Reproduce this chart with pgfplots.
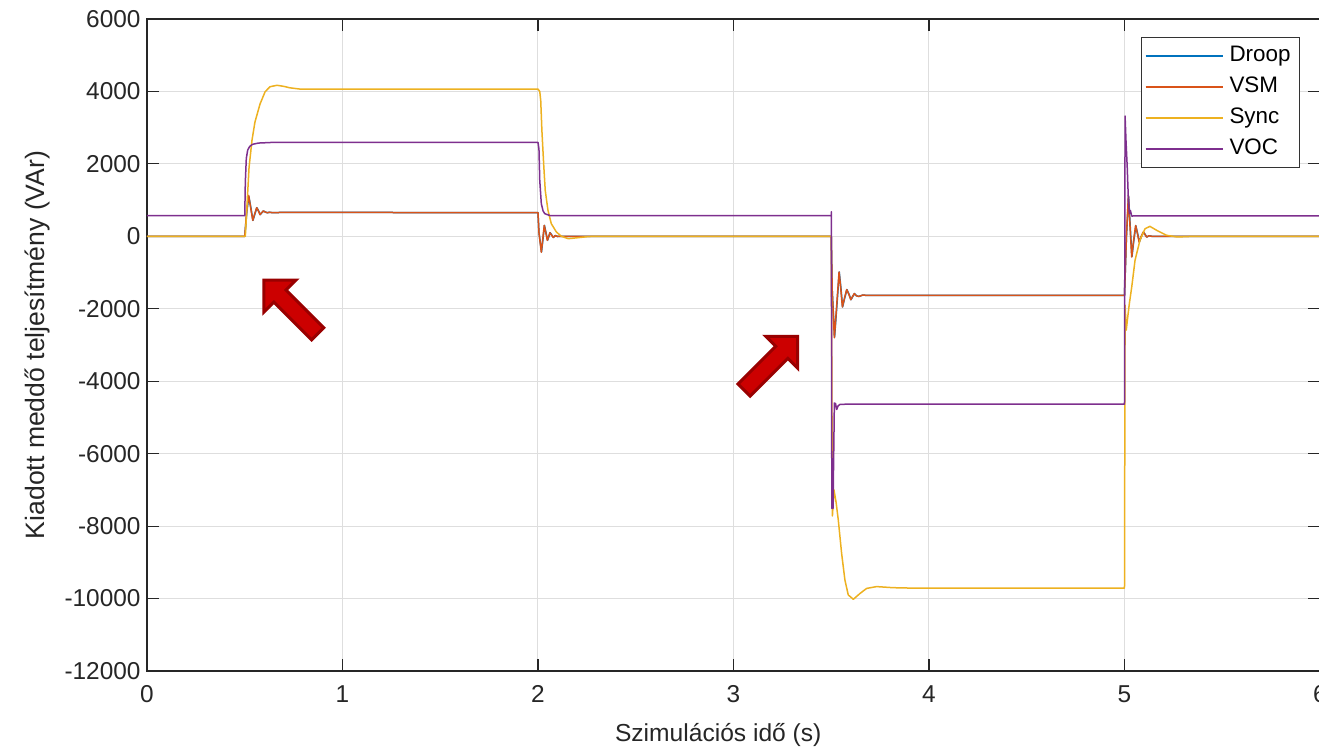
\documentclass[border=0pt]{standalone}
\usepackage{pgfplots}
\pgfplotsset{compat=1.18}
\usepackage{fontspec}
\setmainfont{Liberation Sans}
\definecolor{cDroop}{rgb}{0,0.447,0.741}
\definecolor{cVSM}{rgb}{0.85,0.325,0.098}
\definecolor{cSync}{rgb}{0.929,0.694,0.125}
\definecolor{cVOC}{rgb}{0.494,0.184,0.556}
\definecolor{arrowfill}{HTML}{CC0000}
\definecolor{arrowedge}{HTML}{990000}
\begin{document}
\begin{tikzpicture}
\begin{axis}[
  scale only axis, width=586.5pt, height=326pt,
  xmin=0, xmax=6, ymin=-12000, ymax=6000,
  scaled y ticks=false, scaled x ticks=false,
  xtick={0,1,2,3,4,5,6}, ytick={-12000,-10000,-8000,-6000,-4000,-2000,0,2000,4000,6000},
  grid=major, major grid style={color=black!13, line width=0.5pt},
  tick align=inside, tick pos=both, major tick length=6pt,
  axis line style={black!85, line width=0.6pt},
  every tick/.style={black!85, line width=0.6pt},
  tick label style={font=\fontsize{12.2}{14}\selectfont, text=black!85},
  xticklabel style={yshift=-3.6pt},
  yticklabel style={xshift=0.3pt},
  /pgf/number format/assume math mode=true,
  /pgf/number format/1000 sep={},
  xlabel={Szimulációs idő (s)},
  ylabel={Kiadott meddő teljesítmény (VAr)},
  xlabel style={font=\fontsize{12.3}{14}\selectfont, text=black!85, at={(axis description cs:0.487,-0.098)}, anchor=center},
  ylabel style={font=\fontsize{13.3}{15}\selectfont, text=black!85, at={(axis description cs:-0.0938,0.5)}, anchor=center},
  legend style={at={(0.983,0.972)}, anchor=north east, draw=black!80, fill=white,
    line width=0.5pt, font=\fontsize{11.2}{13}\selectfont, inner sep=1.5pt, row sep=0pt,
    nodes={inner xsep=3pt, inner ysep=2.5pt, text height=8pt, text depth=2.5pt}},
  legend cell align=left,
  legend image code/.code={\draw[#1, line width=0.9pt] (0pt,0pt) -- (38.5pt,0pt);},
  every axis plot/.append style={line width=0.75pt, line join=round},
]
\addplot[cDroop] coordinates {
(0,0) (0.5,0) (0.511,700) (0.521,1100) (0.531,800) (0.542,440) (0.552,620) (0.562,790)
(0.571,700) (0.579,600) (0.587,650) (0.596,700) (0.606,670) (0.616,650) (0.626,665)
(0.64,655) (0.7,660) (2.0,655)
(2.005,100) (2.018,-430) (2.026,-50) (2.033,300) (2.041,100) (2.049,-110) (2.056,0)
(2.062,100) (2.071,30) (2.079,-30) (2.089,20) (2.1,-5) (2.12,0) (3.5,0)
(3.505,-1500) (3.517,-2780) (3.529,-1900) (3.541,-985) (3.549,-1400) (3.558,-1950)
(3.569,-1700) (3.58,-1470) (3.591,-1600) (3.601,-1750) (3.61,-1660) (3.619,-1580)
(3.629,-1640) (3.641,-1660) (3.66,-1625) (3.7,-1630) (5.0,-1630)
(5.01,0) (5.021,1100) (5.029,300) (5.038,-560) (5.048,-100) (5.058,290) (5.067,80)
(5.076,-150) (5.086,-10) (5.097,110) (5.106,50) (5.114,-20) (5.126,15) (5.14,0) (6,0)
};
\addlegendentry{Droop}
\addplot[cVSM] coordinates {
(0,0) (0.5,0) (0.51,700) (0.52,1130) (0.53,800) (0.541,440) (0.551,620) (0.561,790)
(0.57,700) (0.578,600) (0.586,650) (0.595,700) (0.605,670) (0.615,650) (0.625,665)
(0.64,655) (0.7,660) (2.0,655)
(2.005,100) (2.017,-440) (2.025,-50) (2.032,300) (2.04,100) (2.048,-110) (2.055,0)
(2.061,100) (2.07,30) (2.078,-30) (2.088,20) (2.1,-5) (2.12,0) (3.5,0)
(3.505,-1500) (3.516,-2800) (3.528,-1900) (3.54,-985) (3.548,-1400) (3.557,-1950)
(3.568,-1700) (3.579,-1470) (3.59,-1600) (3.6,-1750) (3.609,-1660) (3.618,-1580)
(3.628,-1640) (3.64,-1660) (3.66,-1625) (3.7,-1630) (5.0,-1630)
(5.01,0) (5.02,1130) (5.028,300) (5.037,-570) (5.047,-100) (5.057,300) (5.066,80)
(5.075,-160) (5.085,-10) (5.096,120) (5.105,50) (5.113,-20) (5.125,15) (5.14,0) (6,0)
};
\addlegendentry{VSM}
\addplot[cSync] coordinates {
(0,0) (0.503,0) (0.51,700) (0.522,1900) (0.537,2650) (0.552,3150) (0.578,3650)
(0.604,3990) (0.629,4130) (0.665,4170) (0.7,4140) (0.731,4100) (0.783,4065) (2.0,4065)
(2.009,4000) (2.014,3750) (2.02,2920) (2.029,2000) (2.037,1270) (2.051,720) (2.068,350)
(2.094,120) (2.12,0) (2.155,-65) (2.2,-40) (2.26,-5) (2.4,0) (3.5,0)
(3.506,-7720) (3.514,-7000) (3.525,-7350) (3.536,-7830) (3.553,-8750) (3.57,-9490)
(3.587,-9900) (3.613,-10020) (3.647,-9860) (3.681,-9720) (3.732,-9670) (3.816,-9700)
(3.9,-9710) (5.0,-9710)
(5.003,-1900) (5.009,-2590) (5.015,-2300) (5.025,-1850) (5.037,-1400) (5.054,-660)
(5.079,-110) (5.105,210) (5.13,275) (5.165,165) (5.215,28) (5.27,-18) (5.35,0) (6,0)
};
\addlegendentry{Sync}
\addplot[cVOC] coordinates {
(0,570) (0.5,570) (0.503,1500) (0.508,2150) (0.515,2380) (0.525,2480) (0.54,2540)
(0.57,2575) (0.65,2595) (2.0,2595) (2.005,2400) (2.009,1545) (2.017,900) (2.026,700)
(2.035,625) (2.06,575) (2.1,570) (3.5,570) (3.5005,680)
(3.503,-7510) (3.509,-7510) (3.516,-4600) (3.522,-4620) (3.528,-4780) (3.535,-4680)
(3.545,-4640) (3.6,-4630) (5.0,-4630)
(5.003,3320) (5.008,2600) (5.014,1910) (5.02,990) (5.025,625) (5.03,715) (5.037,560)
(5.06,565) (6,565)
};
\addlegendentry{VOC}
\coordinate (a1) at (axis cs:0.7355,-1948);
\coordinate (a2) at (axis cs:3.191,-3503);
\end{axis}
\begin{scope}[shift={(a1)}, rotate=135]
\draw[arrowedge, fill=arrowfill, line width=1.5pt, line join=miter]
 (-19pt,-4.3pt) -- (7.7pt,-4.3pt) -- (7.7pt,-11.3pt) -- (19pt,0pt) -- (7.7pt,11.3pt) -- (7.7pt,4.3pt) -- (-19pt,4.3pt) -- cycle;
\end{scope}
\begin{scope}[shift={(a2)}, rotate=45]
\draw[arrowedge, fill=arrowfill, line width=1.5pt, line join=miter]
 (-19pt,-4.3pt) -- (7.7pt,-4.3pt) -- (7.7pt,-11.3pt) -- (19pt,0pt) -- (7.7pt,11.3pt) -- (7.7pt,4.3pt) -- (-19pt,4.3pt) -- cycle;
\end{scope}
\pgfresetboundingbox
\path[use as bounding box] ([shift={(-73.5pt,-39.5pt)}]current axis.south west) rectangle ([shift={(586pt,335.5pt)}]current axis.south west);
\end{tikzpicture}
\end{document}
